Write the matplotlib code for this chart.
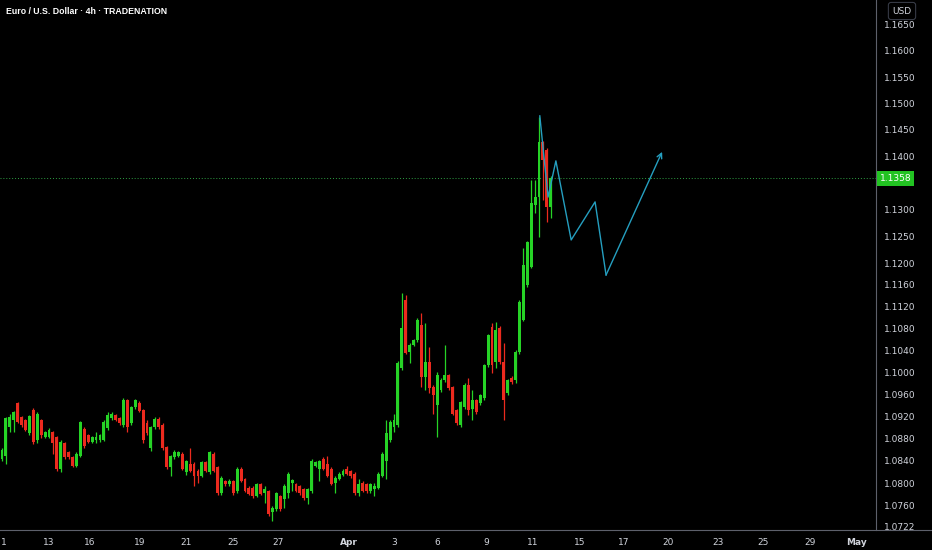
import numpy as np
import matplotlib.pyplot as plt
import matplotlib.ticker as mticker
from matplotlib.lines import Line2D

# EUR/USD 4h candles (open, high, low, close)
opens = [1.0844, 1.0849, 1.0900, 1.0913, 1.0944, 1.0918, 1.0913, 1.0889, 1.0931, 1.0877,
         1.0913, 1.0882, 1.0882, 1.0891, 1.0882, 1.0826, 1.0871, 1.0855, 1.0846, 1.0831,
         1.0849, 1.0897, 1.0886, 1.0873, 1.0877, 1.0877, 1.0877, 1.0898, 1.0916, 1.0922,
         1.0916, 1.0904, 1.0949, 1.0907, 1.0936, 1.0944, 1.0931, 1.0907, 1.0862, 1.0900,
         1.0915, 1.0904, 1.0864, 1.0828, 1.0846, 1.0849, 1.0853, 1.0819, 1.0835, 1.0835,
         1.0822, 1.0813, 1.0837, 1.0819, 1.0853, 1.0828, 1.0782, 1.0804, 1.0798, 1.0804,
         1.0786, 1.0826, 1.0808, 1.0792, 1.0792, 1.0777, 1.0799, 1.0782, 1.0786, 1.0749,
         1.0753, 1.0777, 1.0772, 1.0782, 1.0801, 1.0799, 1.0795, 1.0790, 1.0773, 1.0786,
         1.0831, 1.0826, 1.0844, 1.0835, 1.0826, 1.0801, 1.0808, 1.0815, 1.0826, 1.0822,
         1.0817, 1.0782, 1.0801, 1.0799, 1.0786, 1.0790, 1.0792, 1.0813, 1.0840, 1.0877,
         1.0900, 1.0904, 1.1008, 1.1132, 1.1037, 1.1050, 1.1059, 1.1086, 1.0991, 1.1019,
         1.0973, 1.0940, 1.0968, 1.0986, 1.0995, 1.0973, 1.0931, 1.0904, 1.0936, 1.0977,
         1.0934, 1.0949, 1.0944, 1.0953, 1.1013, 1.1083, 1.1019, 1.1081, 1.1019, 1.0962,
         1.0990, 1.0986, 1.1037, 1.1095, 1.1159, 1.1193, 1.1309, 1.1324, 1.1426, 1.1412,
         1.1305]
highs = [1.0862, 1.0918, 1.0925, 1.0929, 1.0945, 1.0920, 1.0915, 1.0922, 1.0935, 1.0927,
         1.0915, 1.0893, 1.0899, 1.0893, 1.0884, 1.0877, 1.0873, 1.0857, 1.0848, 1.0855,
         1.0911, 1.0900, 1.0888, 1.0884, 1.0891, 1.0888, 1.0913, 1.0927, 1.0927, 1.0925,
         1.0918, 1.0953, 1.0951, 1.0938, 1.0951, 1.0947, 1.0933, 1.0913, 1.0902, 1.0918,
         1.0918, 1.0907, 1.0866, 1.0851, 1.0860, 1.0858, 1.0855, 1.0842, 1.0862, 1.0837,
         1.0826, 1.0839, 1.0840, 1.0857, 1.0855, 1.0830, 1.0813, 1.0806, 1.0808, 1.0806,
         1.0828, 1.0828, 1.0810, 1.0794, 1.0794, 1.0801, 1.0801, 1.0795, 1.0788, 1.0760,
         1.0785, 1.0779, 1.0799, 1.0819, 1.0808, 1.0801, 1.0797, 1.0792, 1.0792, 1.0844,
         1.0840, 1.0842, 1.0846, 1.0848, 1.0828, 1.0813, 1.0819, 1.0826, 1.0830, 1.0824,
         1.0819, 1.0808, 1.0804, 1.0801, 1.0801, 1.0801, 1.0819, 1.0855, 1.0913, 1.0913,
         1.0925, 1.1020, 1.1145, 1.1141, 1.1053, 1.1061, 1.1099, 1.1108, 1.1090, 1.1046,
         1.0976, 1.1000, 1.0990, 1.1050, 1.0997, 1.0975, 1.0933, 1.0947, 1.0980, 1.0990,
         1.0967, 1.0951, 1.0960, 1.1015, 1.1070, 1.1090, 1.1092, 1.1085, 1.1053, 1.0988,
         1.0993, 1.1040, 1.1132, 1.1228, 1.1241, 1.1355, 1.1355, 1.1473, 1.1428, 1.1415,
         1.1362]
lows = [1.0840, 1.0835, 1.0891, 1.0891, 1.0907, 1.0901, 1.0893, 1.0887, 1.0870, 1.0872,
        1.0880, 1.0880, 1.0880, 1.0853, 1.0822, 1.0819, 1.0843, 1.0843, 1.0828, 1.0828,
        1.0846, 1.0862, 1.0871, 1.0871, 1.0871, 1.0873, 1.0875, 1.0895, 1.0913, 1.0911,
        1.0904, 1.0900, 1.0891, 1.0904, 1.0934, 1.0927, 1.0871, 1.0886, 1.0858, 1.0897,
        1.0897, 1.0859, 1.0826, 1.0813, 1.0844, 1.0846, 1.0824, 1.0815, 1.0820, 1.0795,
        1.0801, 1.0811, 1.0820, 1.0817, 1.0820, 1.0778, 1.0779, 1.0795, 1.0795, 1.0779,
        1.0782, 1.0802, 1.0784, 1.0778, 1.0774, 1.0775, 1.0779, 1.0764, 1.0741, 1.0732,
        1.0750, 1.0750, 1.0755, 1.0773, 1.0786, 1.0784, 1.0779, 1.0770, 1.0763, 1.0782,
        1.0828, 1.0804, 1.0824, 1.0811, 1.0797, 1.0782, 1.0806, 1.0813, 1.0815, 1.0810,
        1.0779, 1.0777, 1.0784, 1.0782, 1.0782, 1.0777, 1.0790, 1.0811, 1.0808, 1.0873,
        1.0891, 1.0900, 1.1004, 1.1033, 1.1017, 1.1048, 1.1055, 1.0973, 1.0968, 1.0962,
        1.0925, 1.0882, 1.0964, 1.0982, 1.0968, 1.0922, 1.0904, 1.0900, 1.0934, 1.0922,
        1.0913, 1.0925, 1.0940, 1.0950, 1.1010, 1.0998, 1.1008, 1.1015, 1.0913, 1.0958,
        1.0979, 1.0980, 1.1033, 1.1093, 1.1156, 1.1191, 1.1294, 1.1249, 1.1318, 1.1277,
        1.1284]
closes = [1.0859, 1.0916, 1.0918, 1.0927, 1.0909, 1.0904, 1.0895, 1.0920, 1.0873, 1.0925,
          1.0886, 1.0891, 1.0895, 1.0871, 1.0826, 1.0873, 1.0846, 1.0846, 1.0831, 1.0853,
          1.0909, 1.0866, 1.0873, 1.0882, 1.0882, 1.0886, 1.0909, 1.0922, 1.0925, 1.0913,
          1.0907, 1.0949, 1.0900, 1.0936, 1.0949, 1.0929, 1.0877, 1.0889, 1.0900, 1.0915,
          1.0900, 1.0862, 1.0828, 1.0849, 1.0855, 1.0855, 1.0826, 1.0840, 1.0822, 1.0813,
          1.0813, 1.0837, 1.0822, 1.0855, 1.0822, 1.0782, 1.0810, 1.0798, 1.0804, 1.0782,
          1.0826, 1.0804, 1.0786, 1.0781, 1.0777, 1.0799, 1.0781, 1.0789, 1.0745, 1.0756,
          1.0782, 1.0753, 1.0795, 1.0817, 1.0806, 1.0786, 1.0782, 1.0773, 1.0790, 1.0840,
          1.0837, 1.0840, 1.0826, 1.0813, 1.0799, 1.0810, 1.0817, 1.0822, 1.0817, 1.0813,
          1.0782, 1.0799, 1.0786, 1.0786, 1.0799, 1.0795, 1.0817, 1.0853, 1.0889, 1.0909,
          1.0913, 1.1017, 1.1081, 1.1035, 1.1050, 1.1059, 1.1095, 1.0991, 1.1019, 1.0971,
          1.0958, 1.0995, 1.0986, 1.0995, 1.0971, 1.0925, 1.0907, 1.0945, 1.0977, 1.0931,
          1.0949, 1.0927, 1.0958, 1.1013, 1.1068, 1.1013, 1.1077, 1.1019, 1.0949, 1.0986,
          1.0982, 1.1037, 1.1128, 1.1196, 1.1239, 1.1312, 1.1324, 1.1426, 1.1393, 1.1305,
          1.1358]

# projected zigzag path (bar index, price)
path_x = [137.2, 139.3, 141.3, 145.2, 151.3, 154.1, 168.4]
path_y = [1.1476, 1.1323, 1.1391, 1.1243, 1.1314, 1.1178, 1.1408]

date_pos = [0.5, 12.0, 22.4, 35.2, 47.0, 59.0, 70.4, 88.5, 100.0, 111.0, 123.5,
            135.5, 147.4, 158.7, 170.0, 182.7, 194.1, 206.1, 217.9]
date_labels = ['1', '13', '16', '19', '21', '25', '27', 'Apr', '3', '6', '9',
               '11', '15', '17', '20', '23', '25', '29', 'May']
price_ticks = [1.0722, 1.0760, 1.0800, 1.0840, 1.0880, 1.0920, 1.0960, 1.1000,
               1.1040, 1.1080, 1.1120, 1.1160, 1.1200, 1.1250, 1.1300, 1.1400,
               1.1450, 1.1500, 1.1550, 1.1600, 1.1650]
last_price = 1.1358

UP = '#26d326'
DOWN = '#ec2a1e'
TXT = '#d1d4dc'
GRID = '#5d606b'

fig = plt.figure(figsize=(9.32, 5.5), dpi=100, facecolor='black')
ax = fig.add_axes([0, 20 / 550, 876 / 932, 530 / 550], facecolor='black')

o = np.array(opens)
h = np.array(highs)
l = np.array(lows)
c = np.array(closes)
x = np.arange(len(o))
cols = np.where(c >= o, UP, DOWN)

ax.vlines(x, l, h, colors=cols, lw=0.9, zorder=2)
body = np.maximum(np.abs(c - o), 0.00015)
ax.bar(x, body, bottom=np.minimum(o, c), width=0.74, color=cols, lw=0, zorder=3)

# current price line
ax.axhline(last_price, color='#2ea043', lw=0.7, ls=(0, (1, 2)), zorder=1)

# zigzag projection
line_col = '#259fc0'
ax.plot(path_x[:-1], path_y[:-1], color=line_col, lw=1.0, zorder=4)
ax.annotate('', xy=(path_x[-1], path_y[-1]), xytext=(path_x[-2], path_y[-2]),
            arrowprops=dict(arrowstyle='->', color=line_col, lw=1.0,
                            shrinkA=0, shrinkB=0, mutation_scale=9), zorder=4)

ax.set_yscale('log')
ax.set_ylim(1.07166, 1.1698)
ax.set_xlim(-0.5, 222.96)
ax.yaxis.set_major_locator(mticker.FixedLocator(price_ticks))
ax.yaxis.set_minor_locator(mticker.NullLocator())
ax.yaxis.set_major_formatter(mticker.FuncFormatter(lambda v, p: '%.4f' % v))
ax.yaxis.set_minor_formatter(mticker.NullFormatter())
ax.yaxis.tick_right()
ax.tick_params(axis='y', length=0, pad=6, labelsize=6.5, labelcolor=TXT)
ax.set_xticks(date_pos)
ax.set_xticklabels(date_labels)
ax.tick_params(axis='x', length=0, pad=6, labelsize=6.5, labelcolor=TXT)
for lab in ax.get_xticklabels():
    if lab.get_text() in ('Apr', 'May'):
        lab.set_fontweight('bold')

for s in ('top', 'left', 'bottom'):
    ax.spines[s].set_visible(False)
ax.spines['right'].set_color(GRID)
ax.spines['right'].set_linewidth(0.8)
fig.add_artist(Line2D([0, 1], [20 / 550, 20 / 550], color=GRID, lw=0.8))

# last price tag
ax.text(1.004, last_price, '%.4f' % last_price, transform=ax.get_yaxis_transform(),
        ha='left', va='center', fontsize=6.5, color='white', clip_on=False,
        bbox=dict(boxstyle='square,pad=0.3', fc='#22c322', ec='none'), zorder=6)

fig.text(6 / 932, 1 - 11 / 550, 'Euro / U.S. Dollar · 4h · TRADENATION',
         color='white', fontsize=6.3, va='center', ha='left',
         family='Liberation Sans', fontweight='bold')
fig.text(902 / 932, 1 - 11 / 550, 'USD', color=TXT, fontsize=6.5, va='center', ha='center',
         bbox=dict(boxstyle='round,pad=0.45,rounding_size=0.3', fc='black', ec='#363a45', lw=0.8))

fig.savefig('out.png', dpi=100, facecolor='black')
